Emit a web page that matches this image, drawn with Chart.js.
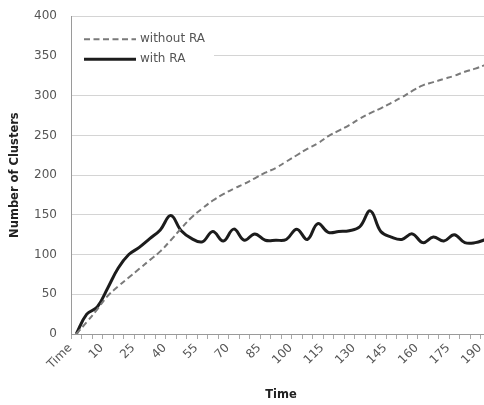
<!DOCTYPE html>
<html>
<head>
<meta charset="utf-8">
<title>Number of Clusters</title>
<script src="https://cdn.jsdelivr.net/npm/chart.js@4/dist/chart.umd.min.js"></script>
<style>
    html, body { margin: 0; padding: 0; background: #fff; overflow: hidden; }
    /* the reference is cut off on the right and at the top, so the chart is a bit bigger than the window */
    #wrap { position: relative; width: 498px; height: 410px; margin-top: -5px; }
</style>
</head>
<body>
<div id="wrap"><canvas id="clusters-chart"></canvas></div>
<script>
// Categories on the x axis (first one is the header cell "Time")
const timeLabels = ['Time', '0', '5', '10', '15', '20', '25', '30', '35', '40',
    '45', '50', '55', '60', '65', '70', '75', '80', '85', '90',
    '95', '100', '105', '110', '115', '120', '125', '130', '135', '140',
    '145', '150', '155', '160', '165', '170', '175', '180', '185', '190'];

// Number of clusters
const withoutRA = [0, 15, 31, 48, 60, 71, 82, 93, 104, 118,
    133, 147, 158, 168, 176, 183, 189, 196, 203, 209,
    217, 225, 233, 240, 249, 256, 263, 271, 278, 284,
    291, 298, 306, 313, 317, 321, 325, 330, 334, 339];

const withRA = [0, 25, 34, 58, 83, 100, 109, 120, 131, 149,
    130, 120, 116, 129, 117, 132, 118, 126, 118, 118,
    119, 132, 119, 139, 128, 129, 130, 135, 155, 129,
    122, 119, 126, 115, 122, 117, 125, 115, 115, 119];

const yTicks = [0, 50, 100, 150, 200, 250, 300, 350, 400];

const tickFont = { family: 'DejaVu Sans', size: 12 };
const titleFont = { family: 'DejaVu Sans', size: 11.5, weight: 'bold' };

// Legend drawn inside the plot, top left, on a white box
const innerLegend = {
    id: 'innerLegend',
    afterDatasetsDraw(chart) {
        const ctx = chart.ctx;
        const area = chart.chartArea;
        const x0 = area.left + 1;
        const y0 = area.top + 9;
        ctx.save();
        ctx.fillStyle = '#fff';
        ctx.fillRect(x0, y0, 142, 47);
        chart.data.datasets.forEach((ds, i) => {
            const y = y0 + 14 + i * 20;
            ctx.beginPath();
            ctx.strokeStyle = ds.borderColor;
            ctx.lineWidth = ds.borderWidth;
            ctx.setLineDash(ds.borderDash || []);
            ctx.moveTo(x0 + 12, y);
            ctx.lineTo(x0 + 64, y);
            ctx.stroke();
            ctx.setLineDash([]);
            ctx.fillStyle = '#555';
            ctx.font = '12px "DejaVu Sans"';
            ctx.textBaseline = 'middle';
            ctx.fillText(ds.label, x0 + 68, y);
        });
        ctx.restore();
    }
};

const ctx = document.getElementById('clusters-chart').getContext('2d');
const clustersChart = new Chart(ctx, {
    type: 'line',
    data: {
        labels: timeLabels,
        datasets: [
            {
                label: 'without RA',
                data: withoutRA,
                borderColor: '#7a7a7a',
                borderWidth: 2,
                borderDash: [6, 3.5],
                pointRadius: 0,
                tension: 0.4,
                fill: false
            },
            {
                label: 'with RA',
                data: withRA,
                borderColor: '#1c1c1c',
                borderWidth: 3,
                pointRadius: 0,
                tension: 0.4,
                fill: false
            }
        ]
    },
    options: {
        responsive: true,
        maintainAspectRatio: false,
        animation: false,
        layout: { padding: { top: 3, left: 2, right: 0, bottom: 0 } },
        plugins: {
            legend: { display: false },
            tooltip: { enabled: false }
        },
        scales: {
            x: {
                type: 'category',
                offset: true,
                grid: {
                    display: true,
                    drawOnChartArea: false,
                    offset: true,
                    color: '#a8a8a8',
                    tickLength: 5
                },
                border: { color: '#9a9a9a' },
                ticks: {
                    autoSkip: false,
                    maxRotation: 45,
                    minRotation: 45,
                    padding: 2,
                    labelOffset: -6,
                    color: '#555',
                    font: tickFont,
                    callback: function (value, index) {
                        return index % 3 === 0 ? this.getLabelForValue(value) : '';
                    }
                },
                title: {
                    display: true,
                    text: 'Time',
                    color: '#222',
                    font: titleFont,
                    padding: { top: 4, bottom: 3 }
                },
                afterFit: function (scale) { scale.height = 71; }
            },
            y: {
                min: 0,
                max: 400,
                afterBuildTicks: function (scale) {
                    scale.ticks = yTicks.map(v => ({ value: v }));
                },
                grid: {
                    color: '#d4d4d4',
                    drawTicks: false
                },
                border: { color: '#9a9a9a' },
                ticks: {
                    padding: 14,
                    color: '#555',
                    font: tickFont
                },
                title: {
                    display: true,
                    text: 'Number of Clusters',
                    color: '#222',
                    font: titleFont,
                    padding: { top: 6, bottom: 0 }
                },
                afterFit: function (scale) { scale.width = 69; }
            }
        }
    },
    plugins: [innerLegend]
});
</script>
</body>
</html>
